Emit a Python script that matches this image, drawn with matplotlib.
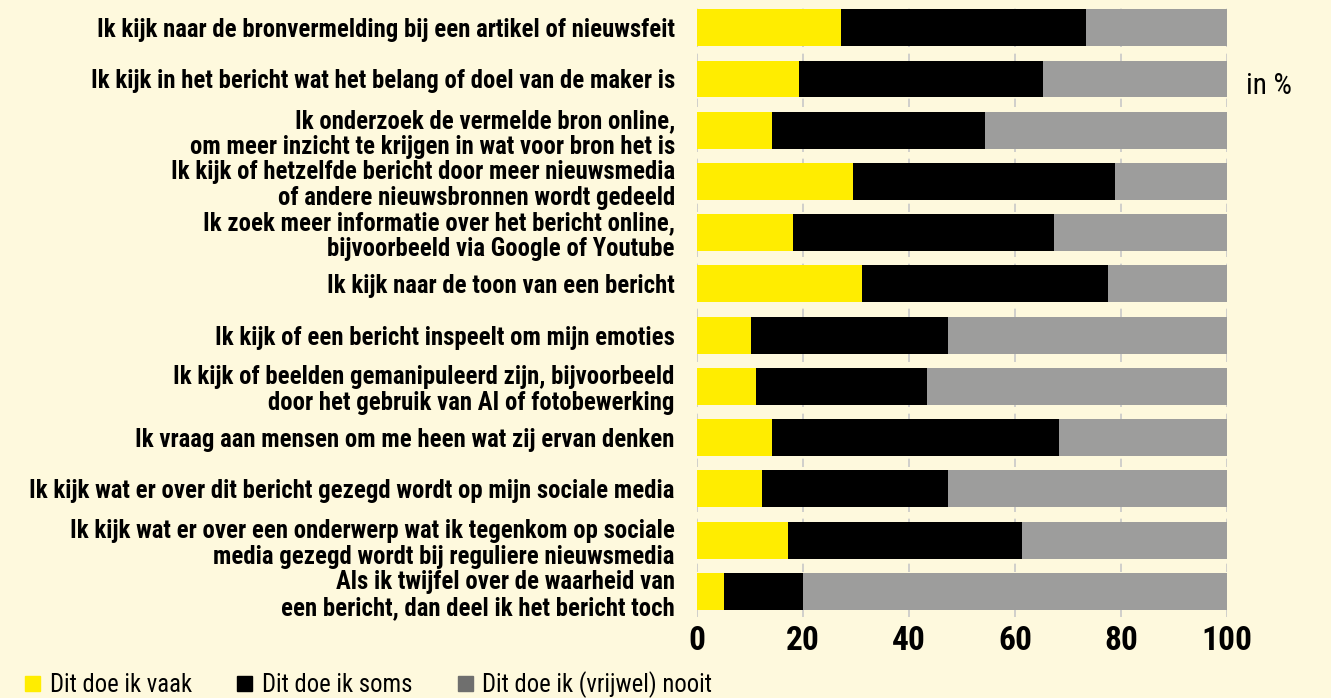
import matplotlib.pyplot as plt
from matplotlib import font_manager
from matplotlib.patches import Patch

categories = [
    "Ik kijk naar de bronvermelding bij een artikel of nieuwsfeit",
    "Ik kijk in het bericht wat het belang of doel van de maker is",
    "Ik onderzoek de vermelde bron online,\nom meer inzicht te krijgen in wat voor bron het is",
    "Ik kijk of hetzelfde bericht door meer nieuwsmedia\nof andere nieuwsbronnen wordt gedeeld",
    "Ik zoek meer informatie over het bericht online,\nbijvoorbeeld via Google of Youtube",
    "Ik kijk naar de toon van een bericht",
    "Ik kijk of een bericht inspeelt om mijn emoties",
    "Ik kijk of beelden gemanipuleerd zijn, bijvoorbeeld\ndoor het gebruik van AI of fotobewerking",
    "Ik vraag aan mensen om me heen wat zij ervan denken",
    "Ik kijk wat er over dit bericht gezegd wordt op mijn sociale media",
    "Ik kijk wat er over een onderwerp wat ik tegenkom op sociale\nmedia gezegd wordt bij reguliere nieuwsmedia",
    "Als ik twijfel over de waarheid van\neen bericht, dan deel ik het bericht toch",
]
vaak = [27.2, 19.3, 14.2, 29.5, 18.1, 31.1, 10.2, 11.2, 14.2, 12.3, 17.2, 5.0]
soms = [46.2, 46.0, 40.1, 49.4, 49.3, 46.5, 37.1, 32.2, 54.1, 35.0, 44.1, 15.0]
nooit = [26.6, 34.7, 45.7, 21.1, 32.6, 22.4, 52.7, 56.6, 31.7, 52.7, 38.7, 80.0]
series_names = ["Dit doe ik vaak", "Dit doe ik soms", "Dit doe ik (vrijwel) nooit"]
xticks = [0, 20, 40, 60, 80, 100]

bg = "#FEF9DD"
yellow = "#FFED00"
black = "#000000"
grey = "#9D9D9C"

# condensed font, pick the first one that is installed
names = {f.name for f in font_manager.fontManager.ttflist}
fam = "DejaVu Sans"
for cand in ["Roboto Condensed", "Archivo Narrow", "PT Sans Narrow", "Liberation Sans Narrow", "Barlow Condensed"]:
    if cand in names:
        fam = cand
        break
plt.rcParams["font.family"] = [fam, "DejaVu Sans"]

fig = plt.figure(figsize=(13.31, 6.98), dpi=100, facecolor=bg)
ax = fig.add_axes([0.5237, 0.116, 0.3982, 0.881], facecolor=bg)

y = list(range(len(categories)))
h = 0.72
ax.barh(y, vaak, height=h, color=yellow, zorder=2)
ax.barh(y, soms, left=vaak, height=h, color=black, zorder=2)
left3 = [a + b for a, b in zip(vaak, soms)]
ax.barh(y, nooit, left=left3, height=h, color=grey, zorder=2)

ax.set_ylim(len(categories) - 0.5, -0.5)
ax.set_xlim(0, 100)
ax.set_yticks(y)
ax.set_yticklabels(categories, fontsize=17.8, fontweight="bold", linespacing=1.1)
ax.set_xticks(xticks)
ax.set_xticklabels([str(t) for t in xticks], fontsize=24, fontweight="bold")
ax.tick_params(axis="y", length=0, pad=16)
ax.tick_params(axis="x", length=0, pad=6)
for s in ax.spines.values():
    s.set_visible(False)
ax.grid(axis="x", color="#C8C8C8", linestyle=(0, (5, 4)), linewidth=1.2, zorder=0)

fig.text(0.936, 0.877, "in %", fontsize=21, va="center", ha="left")

handles = [Patch(color=yellow), Patch(color=black), Patch(color="#6F6F6E")]
fig.legend(handles, series_names, loc="lower left", bbox_to_anchor=(25 / 1331, 0.0),
           ncol=3, frameon=False, fontsize=17.7, handlelength=0.6, handleheight=0.6,
           handletextpad=0.4, columnspacing=1.85, borderpad=0.0, borderaxespad=0.0)

fig.savefig("out.png", dpi=100, facecolor=bg)
